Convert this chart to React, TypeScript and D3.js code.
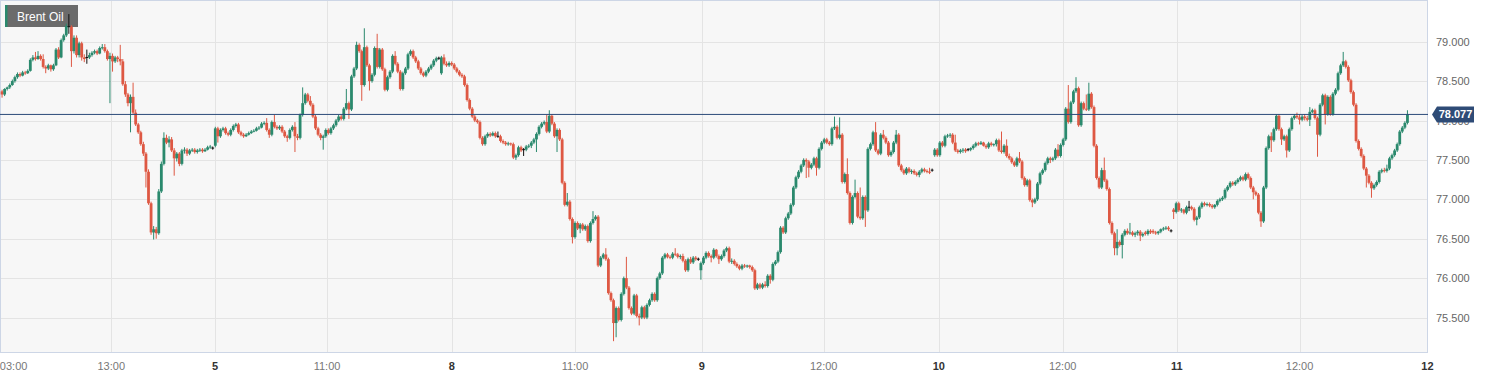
import React from "react";
import * as d3 from "d3";

// Brent Oil, 15-minute candles: [open, high, low, close]
const day4: number[][] = [
  [78.37,78.39,78.29,78.33],[78.33,78.41,78.31,78.40],[78.40,78.43,78.38,78.42],[78.42,78.47,78.40,78.45],
  [78.45,78.52,78.44,78.50],[78.50,78.57,78.48,78.55],[78.55,78.61,78.53,78.59],[78.59,78.61,78.55,78.57],
  [78.57,78.63,78.56,78.61],[78.61,78.63,78.58,78.60],[78.60,78.65,78.59,78.63],[78.63,78.79,78.62,78.77],
  [78.77,78.83,78.75,78.80],[78.80,78.87,78.76,78.78],[78.78,78.88,78.77,78.82],[78.82,78.84,78.76,78.78],
  [78.78,78.84,78.66,78.68],[78.68,78.70,78.60,78.66],[78.66,78.72,78.64,78.70],[78.70,78.71,78.62,78.65],
  [78.65,78.72,78.63,78.70],[78.70,78.92,78.69,78.90],[78.90,78.93,78.78,78.80],[78.80,79.04,78.79,79.02],
  [79.02,79.10,79.00,79.08],[79.08,79.23,79.06,79.20],[79.19,79.35,79.10,79.19],[79.19,79.21,78.68,78.88],
  [78.88,79.08,78.85,79.05],[79.05,79.08,78.80,78.83],[78.83,79.00,78.80,78.98],[78.98,79.00,78.76,78.80],
  [78.80,78.84,78.74,78.78],[78.80,78.90,78.72,78.80],[78.80,78.86,78.78,78.83],[78.83,78.88,78.81,78.86],
  [78.86,78.90,78.84,78.88],[78.88,78.90,78.83,78.85],[78.85,78.94,78.84,78.92],[78.92,78.97,78.90,78.93],
  [78.93,78.97,78.86,78.88],[78.88,78.90,78.76,78.78],[78.78,78.86,78.22,78.82],[78.82,78.85,78.62,78.75],
  [78.75,78.82,78.73,78.80],[78.80,78.82,78.74,78.78],[78.78,78.96,78.70,78.75],[78.75,78.78,78.44,78.46],
  [78.46,78.50,78.30,78.33],[78.33,78.35,78.18,78.22],[78.22,78.33,77.85,78.30],[78.30,78.48,78.08,78.10],
  [78.10,78.14,77.93,77.95],[77.95,77.97,77.83,77.85],[77.85,77.87,77.68,77.70],[77.70,77.73,77.55,77.58],
  [77.58,77.60,77.15,77.35],[77.35,77.38,76.93,76.95],[76.95,76.97,76.55,76.58],[76.58,76.66,76.49,76.62],
  [76.62,76.65,76.50,76.57],[76.57,77.13,76.55,77.10],[77.10,77.48,77.08,77.45],[77.45,77.85,77.43,77.78],
  [77.78,77.82,77.70,77.72],[77.72,77.80,77.66,77.76],[77.76,77.79,77.60,77.62],[77.62,77.65,77.30,77.52],
  [77.52,77.60,77.48,77.58],[77.58,77.60,77.42,77.45],[77.45,77.64,77.43,77.62],[77.62,77.66,77.58,77.63],
  [77.63,77.65,77.55,77.58],[77.58,77.64,77.56,77.62],[77.62,77.65,77.60,77.63],[77.63,77.65,77.58,77.60],
  [77.60,77.64,77.58,77.62],[77.62,77.65,77.60,77.63],[77.63,77.65,77.59,77.61],[77.61,77.65,77.60,77.63],
  [77.63,77.68,77.62,77.66],[77.66,77.69,77.64,77.67],[77.65,77.67,77.63,77.65],
];

const day5: number[][] = [
  [77.68,77.92,77.66,77.90],[77.90,77.92,77.72,77.80],[77.80,77.90,77.78,77.88],[77.88,77.92,77.86,77.90],
  [77.90,77.92,77.82,77.84],[77.84,77.86,77.80,77.82],[77.82,77.90,77.80,77.88],[77.88,77.95,77.86,77.93],
  [77.93,77.97,77.91,77.95],[77.95,77.97,77.83,77.85],[77.85,77.87,77.80,77.82],[77.82,77.84,77.78,77.80],
  [77.80,77.84,77.79,77.82],[77.82,77.86,77.81,77.84],[77.84,77.88,77.83,77.86],[77.86,77.89,77.85,77.87],
  [77.87,77.92,77.86,77.90],[77.90,77.93,77.88,77.91],[77.91,77.98,77.90,77.96],[77.96,77.99,77.94,77.97],
  [77.97,78.03,77.86,77.88],[77.88,77.90,77.78,77.82],[77.82,78.00,77.80,77.98],[77.98,78.07,77.90,77.92],
  [77.92,77.94,77.88,77.90],[77.90,77.94,77.88,77.92],[77.92,77.94,77.84,77.86],[77.86,77.88,77.78,77.80],
  [77.80,77.82,77.73,77.78],[77.78,77.90,77.76,77.88],[77.88,77.94,77.86,77.92],[77.92,77.98,77.60,77.80],
  [77.80,77.83,77.75,77.78],[77.78,78.09,77.76,78.07],[78.07,78.42,78.05,78.22],[78.22,78.35,78.20,78.33],
  [78.33,78.35,78.23,78.25],[78.25,78.31,78.18,78.20],[78.20,78.22,78.03,78.05],[78.05,78.07,77.88,77.90],
  [77.90,77.92,77.80,77.82],[77.82,77.84,77.75,77.78],[77.78,77.82,77.63,77.80],[77.80,77.90,77.78,77.88],
  [77.88,77.90,77.82,77.84],[77.84,77.92,77.82,77.90],[77.90,77.96,77.88,77.94],[77.94,78.02,77.92,78.00],
  [78.00,78.07,77.98,78.05],[78.05,78.07,78.00,78.02],[78.02,78.17,78.00,78.15],[78.15,78.40,78.13,78.22],
  [78.22,78.24,78.02,78.14],[78.14,78.58,78.12,78.56],[78.56,78.68,78.54,78.66],[78.66,79.00,78.64,78.96],
  [78.96,78.98,78.86,78.88],[78.88,78.90,78.25,78.45],[78.45,79.17,78.43,78.93],[78.93,78.95,78.68,78.70],
  [78.70,78.72,78.38,78.50],[78.50,78.60,78.48,78.58],[78.58,78.94,78.56,78.92],[78.92,79.10,78.66,78.68],
  [78.68,78.92,78.66,78.90],[78.90,78.92,78.63,78.65],[78.65,78.67,78.37,78.39],[78.39,78.57,78.37,78.55],
  [78.55,78.64,78.53,78.62],[78.62,78.84,78.60,78.82],[78.82,78.88,78.70,78.72],[78.72,78.74,78.60,78.62],
  [78.62,78.64,78.38,78.40],[78.40,78.62,78.38,78.60],[78.60,78.68,78.58,78.66],[78.66,78.86,78.64,78.84],
  [78.84,78.90,78.82,78.88],[78.88,78.90,78.78,78.80],[78.80,78.82,78.73,78.75],[78.75,78.77,78.64,78.66],
  [78.66,78.68,78.58,78.60],[78.60,78.62,78.55,78.57],[78.57,78.64,78.55,78.62],[78.62,78.68,78.60,78.66],
  [78.66,78.72,78.64,78.70],[78.70,78.78,78.68,78.76],[78.76,78.81,78.74,78.79],[78.79,78.81,78.77,78.79],
  [78.60,78.82,78.58,78.80],[78.80,78.84,78.70,78.72],[78.72,78.75,78.68,78.70],[78.70,78.75,78.68,78.73],
  [78.73,78.75,78.69,78.71],
];

const day8: number[][] = [
  [78.71,78.73,78.64,78.66],[78.66,78.68,78.60,78.62],[78.62,78.64,78.56,78.58],[78.58,78.60,78.54,78.56],
  [78.56,78.58,78.43,78.45],[78.45,78.47,78.24,78.26],[78.26,78.28,78.13,78.15],[78.15,78.17,78.03,78.05],
  [78.05,78.07,77.98,78.00],[78.00,78.02,77.96,77.98],[77.98,78.00,77.76,77.78],[77.78,77.80,77.68,77.70],
  [77.70,77.82,77.68,77.80],[77.80,77.85,77.78,77.83],[77.83,77.85,77.79,77.81],[77.81,77.86,77.80,77.84],
  [77.84,77.86,77.78,77.80],[77.80,77.86,77.78,77.80],[77.80,77.82,77.72,77.74],[77.74,77.76,77.70,77.72],
  [77.72,77.74,77.68,77.70],[77.70,77.73,77.68,77.71],[77.71,77.72,77.68,77.70],[77.70,77.72,77.51,77.53],
  [77.53,77.58,77.50,77.56],[77.56,77.68,77.54,77.66],[77.66,77.68,77.60,77.62],[77.63,77.65,77.55,77.63],
  [77.63,77.69,77.61,77.67],[77.67,77.70,77.65,77.68],[77.68,77.74,77.65,77.72],[77.72,77.78,77.70,77.76],
  [77.76,77.85,77.60,77.83],[77.83,77.94,77.81,77.92],[77.92,77.98,77.90,77.96],[77.96,78.00,77.94,77.98],
  [77.98,78.07,77.84,77.86],[77.86,78.13,77.84,78.06],[78.06,78.08,77.94,77.96],[77.96,77.98,77.78,77.80],
  [77.80,77.90,77.60,77.88],[77.88,77.90,77.74,77.76],[77.76,77.78,77.19,77.21],[77.21,77.23,76.91,76.93],
  [76.93,77.08,76.91,76.97],[76.97,76.99,76.73,76.75],[76.75,76.77,76.44,76.52],[76.52,76.72,76.50,76.70],
  [76.70,76.72,76.61,76.63],[76.63,76.70,76.57,76.68],[76.68,76.70,76.60,76.62],[76.62,76.68,76.60,76.66],
  [76.66,76.68,76.45,76.47],[76.47,76.72,76.45,76.70],[76.70,76.85,76.68,76.75],[76.75,76.80,76.73,76.78],
  [76.78,76.80,76.14,76.16],[76.16,76.28,76.14,76.26],[76.26,76.32,76.24,76.30],[76.30,76.38,76.22,76.24],
  [76.24,76.26,75.79,75.81],[75.81,75.83,75.70,75.72],[75.72,75.74,75.20,75.43],[75.43,75.64,75.25,75.62],
  [75.62,75.64,75.45,75.47],[75.47,75.82,75.45,75.80],[75.80,76.02,75.78,76.00],[76.00,76.27,75.86,75.88],
  [75.88,75.90,75.60,75.62],[75.62,75.64,75.53,75.55],[75.55,75.80,75.53,75.78],[75.78,75.80,75.50,75.52],
  [75.52,75.55,75.40,75.50],[75.50,75.65,75.48,75.63],[75.63,75.65,75.48,75.50],[75.50,75.68,75.48,75.66],
  [75.66,75.74,75.64,75.72],[75.72,75.82,75.70,75.80],[75.80,75.82,75.70,75.72],[75.72,76.02,75.70,76.00],
  [76.00,76.08,75.98,76.06],[76.06,76.28,76.04,76.26],[76.26,76.32,76.24,76.30],[76.30,76.32,76.25,76.27],
  [76.27,76.29,76.24,76.26],[76.26,76.33,76.24,76.31],[76.31,76.38,76.28,76.30],[76.30,76.32,76.25,76.27],
  [76.27,76.30,76.24,76.28],[76.28,76.31,76.20,76.22],[76.22,76.24,76.08,76.10],[76.10,76.26,76.08,76.24],
  [76.24,76.27,76.18,76.20],[76.20,76.28,76.18,76.26],[76.26,76.28,76.22,76.24],[76.24,76.26,76.22,76.24],
];

const day9: number[][] = [
  [76.10,76.21,75.98,76.19],[76.19,76.28,76.17,76.26],[76.26,76.34,76.24,76.32],[76.32,76.34,76.26,76.28],
  [76.28,76.30,76.20,76.26],[76.26,76.38,76.24,76.36],[76.36,76.37,76.26,76.28],[76.28,76.30,76.18,76.24],
  [76.24,76.30,76.22,76.28],[76.28,76.37,76.26,76.35],[76.35,76.40,76.33,76.38],[76.38,76.40,76.19,76.21],
  [76.21,76.25,76.18,76.22],[76.22,76.24,76.16,76.18],[76.18,76.20,76.13,76.15],[76.15,76.17,76.10,76.12],
  [76.12,76.18,76.10,76.16],[76.16,76.18,76.13,76.15],[76.15,76.17,76.13,76.16],[76.16,76.17,76.12,76.14],
  [76.14,76.16,76.08,76.10],[76.10,76.12,75.85,75.87],[75.87,75.94,75.85,75.92],[75.92,75.94,75.86,75.88],
  [75.88,75.94,75.86,75.92],[75.92,75.96,75.88,75.90],[75.90,76.05,75.88,76.03],[76.03,76.05,75.93,75.98],
  [75.98,76.20,75.96,76.18],[76.18,76.23,76.16,76.21],[76.21,76.35,76.19,76.33],[76.33,76.66,76.31,76.64],
  [76.64,76.66,76.56,76.58],[76.58,76.78,76.56,76.76],[76.76,76.84,76.74,76.82],[76.82,76.95,76.80,76.93],
  [76.93,77.17,76.91,77.15],[77.15,77.30,77.13,77.28],[77.28,77.37,77.26,77.35],[77.35,77.45,77.33,77.43],
  [77.43,77.52,77.41,77.50],[77.50,77.52,77.27,77.48],[77.48,77.50,77.28,77.40],[77.40,77.46,77.38,77.44],
  [77.44,77.54,77.42,77.52],[77.52,77.54,77.30,77.40],[77.40,77.66,77.38,77.64],[77.64,77.74,77.62,77.72],
  [77.72,77.78,77.70,77.76],[77.76,77.78,77.70,77.72],[77.72,77.74,77.68,77.70],[77.70,77.92,77.68,77.90],
  [77.90,78.05,77.88,77.92],[77.92,77.94,77.76,77.78],[77.78,78.04,77.76,77.82],[77.82,77.84,77.20,77.22],
  [77.22,77.34,77.20,77.32],[77.32,77.52,77.06,77.08],[77.08,77.10,76.68,76.70],[76.70,77.05,76.68,77.03],
  [77.03,77.25,77.01,77.08],[77.08,77.10,76.76,76.78],[76.78,77.15,76.74,76.76],[76.76,77.05,76.74,77.03],
  [77.03,77.05,76.65,76.86],[76.86,77.66,76.84,77.64],[77.64,77.72,77.62,77.70],[77.70,77.87,77.68,77.85],
  [77.85,77.98,77.60,77.62],[77.62,77.64,77.56,77.58],[77.58,77.84,77.56,77.82],[77.82,77.88,77.76,77.78],
  [77.78,77.80,77.70,77.72],[77.72,77.74,77.54,77.56],[77.56,77.62,77.54,77.60],[77.60,77.74,77.58,77.72],
  [77.72,77.88,77.70,77.82],[77.82,77.84,77.41,77.43],[77.43,77.45,77.35,77.37],[77.37,77.39,77.31,77.33],
  [77.33,77.41,77.31,77.39],[77.39,77.41,77.33,77.35],[77.35,77.38,77.32,77.36],[77.36,77.38,77.31,77.33],
  [77.33,77.35,77.29,77.31],[77.31,77.37,77.28,77.35],[77.35,77.40,77.33,77.38],[77.38,77.40,77.34,77.36],
  [77.36,77.38,77.33,77.35],[77.35,77.40,77.32,77.34],[77.37,77.39,77.35,77.37],
];

const day10: number[][] = [
  [77.56,77.65,77.54,77.63],[77.63,77.65,77.54,77.56],[77.56,77.74,77.54,77.72],[77.72,77.74,77.66,77.68],
  [77.68,77.82,77.66,77.80],[77.80,77.83,77.78,77.81],[77.81,77.84,77.78,77.82],[77.82,77.84,77.70,77.72],
  [77.72,77.82,77.60,77.62],[77.62,77.64,77.58,77.60],[77.60,77.64,77.58,77.62],[77.62,77.65,77.59,77.63],
  [77.63,77.65,77.59,77.61],[77.63,77.65,77.61,77.63],[77.63,77.66,77.61,77.65],[77.65,77.70,77.63,77.68],
  [77.68,77.73,77.66,77.71],[77.71,77.73,77.68,77.70],[77.70,77.74,77.69,77.72],[77.72,77.73,77.67,77.68],
  [77.68,77.70,77.64,77.66],[77.66,77.73,77.64,77.71],[77.71,77.73,77.67,77.69],[77.69,77.71,77.67,77.70],
  [77.70,77.77,77.67,77.75],[77.75,77.77,77.60,77.62],[77.62,77.86,77.58,77.60],[77.60,77.70,77.58,77.68],
  [77.68,77.76,77.53,77.55],[77.55,77.58,77.50,77.52],[77.52,77.54,77.45,77.47],[77.47,77.49,77.41,77.43],
  [77.43,77.54,77.41,77.52],[77.52,77.60,77.46,77.48],[77.48,77.50,77.25,77.27],[77.27,77.29,77.16,77.18],
  [77.18,77.26,77.16,77.24],[77.24,77.26,76.97,76.99],[76.99,77.01,76.90,76.96],[76.96,77.02,76.94,77.00],
  [77.00,77.22,76.98,77.20],[77.20,77.35,77.18,77.33],[77.33,77.39,77.31,77.37],[77.37,77.48,77.35,77.46],
  [77.46,77.54,77.44,77.52],[77.52,77.54,77.46,77.50],[77.50,77.54,77.48,77.52],[77.52,77.65,77.50,77.63],
  [77.63,77.70,77.53,77.55],[77.55,77.71,77.53,77.69],[77.69,77.78,77.67,77.76],[77.76,78.17,77.74,78.15],
  [78.15,78.45,77.96,77.98],[77.98,78.25,77.96,78.23],[78.23,78.39,78.21,78.37],[78.37,78.55,78.35,78.41],
  [78.41,78.43,77.92,77.94],[77.94,78.24,77.92,78.22],[78.22,78.24,78.13,78.15],[78.15,78.33,78.12,78.14],
  [78.14,78.48,78.12,78.34],[78.34,78.36,78.15,78.17],[78.17,78.19,77.66,77.68],[77.68,77.70,77.25,77.27],
  [77.27,77.29,77.13,77.15],[77.15,77.40,77.13,77.37],[77.37,77.53,77.22,77.24],[77.24,77.26,77.11,77.13],
  [77.13,77.15,76.68,76.70],[76.70,76.72,76.55,76.57],[76.57,76.59,76.29,76.38],[76.38,76.62,76.29,76.46],
  [76.46,76.48,76.40,76.42],[76.42,76.57,76.25,76.55],[76.55,76.62,76.53,76.60],[76.60,76.63,76.55,76.57],
  [76.57,76.70,76.55,76.58],[76.58,76.60,76.53,76.55],[76.55,76.59,76.52,76.57],[76.57,76.61,76.54,76.59],
  [76.59,76.61,76.47,76.54],[76.54,76.58,76.52,76.56],[76.58,76.60,76.54,76.56],[76.56,76.62,76.54,76.60],
  [76.60,76.62,76.56,76.58],[76.60,76.62,76.56,76.58],[76.58,76.60,76.55,76.57],[76.57,76.60,76.55,76.59],
  [76.59,76.63,76.57,76.62],[76.62,76.65,76.60,76.63],[76.63,76.66,76.61,76.64],[76.64,76.66,76.60,76.62],
  [76.60,76.62,76.58,76.60],
];

const day11: number[][] = [
  [76.87,76.89,76.75,76.84],[76.84,76.97,76.82,76.95],[76.95,76.97,76.84,76.86],[76.86,76.89,76.83,76.87],
  [76.87,76.88,76.81,76.83],[76.83,76.92,76.81,76.90],[76.90,76.98,76.85,76.90],[76.90,76.92,76.86,76.88],
  [76.88,76.90,76.72,76.74],[76.74,76.79,76.67,76.77],[76.77,76.92,76.75,76.90],[76.90,76.97,76.88,76.95],
  [76.95,76.97,76.91,76.93],[76.93,76.96,76.91,76.94],[76.94,76.96,76.90,76.92],[76.92,76.94,76.88,76.90],
  [76.90,76.94,76.88,76.93],[76.93,77.00,76.91,76.98],[76.98,77.02,76.96,77.00],[77.00,77.04,76.98,77.02],
  [77.02,77.14,77.00,77.12],[77.12,77.18,77.10,77.16],[77.16,77.23,77.14,77.21],[77.21,77.23,77.17,77.19],
  [77.19,77.24,77.17,77.22],[77.22,77.27,77.20,77.25],[77.25,77.30,77.23,77.28],[77.28,77.30,77.23,77.25],
  [77.25,77.34,77.23,77.32],[77.32,77.34,77.25,77.27],[77.27,77.29,77.13,77.15],[77.15,77.17,77.00,77.09],
  [77.09,77.11,77.04,77.06],[77.06,77.08,76.81,76.83],[76.83,76.85,76.65,76.72],[76.72,77.17,76.70,77.15],
  [77.15,77.67,77.13,77.65],[77.65,77.82,77.63,77.80],[77.80,77.85,77.60,77.75],[77.75,77.91,77.73,77.89],
  [77.89,78.08,77.87,78.06],[78.06,78.08,77.87,77.89],[77.89,77.91,77.69,77.76],[77.76,77.82,77.74,77.80],
  [77.80,77.82,77.53,77.62],[77.62,77.91,77.60,77.89],[77.89,78.05,77.87,78.03],[78.03,78.08,78.01,78.06],
  [78.06,78.10,78.02,78.04],[78.04,78.08,77.95,78.01],[78.01,78.07,77.99,78.05],[78.05,78.08,78.00,78.03],
  [78.03,78.06,77.99,78.01],[78.01,78.17,77.93,78.11],[78.11,78.15,78.09,78.13],[78.13,78.15,78.01,78.03],
  [78.03,78.05,77.54,77.82],[77.82,78.22,77.80,78.20],[78.20,78.34,78.18,78.32],[78.32,78.34,77.95,78.08],
  [78.08,78.32,78.06,78.30],[78.30,78.32,78.06,78.08],[78.08,78.36,78.06,78.34],[78.34,78.41,78.32,78.39],
  [78.39,78.62,78.37,78.60],[78.60,78.72,78.58,78.70],[78.70,78.87,78.68,78.75],[78.75,78.77,78.66,78.68],
  [78.68,78.70,78.49,78.51],[78.51,78.53,78.34,78.36],[78.36,78.38,78.18,78.20],[78.20,78.22,77.72,77.74],
  [77.74,77.76,77.62,77.64],[77.64,77.66,77.53,77.55],[77.55,77.57,77.37,77.39],[77.39,77.41,77.15,77.30],
  [77.30,77.32,77.19,77.21],[77.21,77.23,77.02,77.14],[77.14,77.20,77.12,77.18],[77.18,77.24,77.16,77.22],
  [77.22,77.37,77.20,77.35],[77.35,77.39,77.33,77.37],[77.37,77.40,77.34,77.36],[77.36,77.44,77.34,77.39],
  [77.39,77.54,77.37,77.52],[77.52,77.58,77.50,77.56],[77.56,77.64,77.54,77.62],[77.62,77.72,77.60,77.70],
  [77.70,77.88,77.68,77.86],[77.86,77.93,77.84,77.91],[77.91,77.99,77.89,77.97],[77.97,78.13,77.95,78.077],
];

// axis
const yTickValues = [75.5, 76.0, 76.5, 77.0, 77.5, 78.0, 78.5, 79.0];
const xTickLabels = ["03:00", "13:00", "5", "11:00", "8", "11:00", "9", "12:00", "10", "12:00", "11", "12:00", "12"];
const xTickSlots = [4.5, 42.5, 82.9, 126.5, 175.1, 223.0, 272.4, 319.8, 364.6, 412.8, 457.2, 505.0, 554.8];
const xTickIsDay = [false, false, true, false, true, false, true, false, true, false, true, false, true];
const seriesName = "Brent Oil";

const UP = "#2a896d";
const DOWN = "#de5843";
const FONT = "'Liberation Sans', Arial, Helvetica, sans-serif";

export default function App() {
  const candles = [...day4, ...day5, ...day8, ...day9, ...day10, ...day11].map((d, i) => ({
    i, o: d[0], h: d[1], l: d[2], c: d[3],
  }));
  const last = candles[candles.length - 1].c;

  const plotW = 1428, plotH = 353;
  const x = d3.scaleLinear().domain([-0.8, 555]).range([0, plotW]);
  const y = d3.scaleLinear().domain([75.05, 79.529]).range([plotH, 0]);
  const fmt = d3.format(".3f");
  const bw = 2.8;

  const ly = y(last);

  return (
    <svg width={1493} height={380} style={{ position: "absolute", left: 0, top: 0, background: "#fff" }} fontFamily={FONT}>
      <rect x={0} y={0} width={1493} height={380} fill="#ffffff" />
      <rect x={0} y={0} width={plotW} height={plotH} fill="#f7f7f7" />
      {yTickValues.map((v) => (
        <line key={"gy" + v} x1={0} x2={plotW} y1={Math.round(y(v)) + 0.5} y2={Math.round(y(v)) + 0.5} stroke="#e4e4e4" strokeWidth={1} />
      ))}
      {xTickSlots.map((s, k) =>
        k === 0 || k === xTickSlots.length - 1 ? null : (
          <line key={"gx" + k} x1={Math.round(x(s)) + 0.5} x2={Math.round(x(s)) + 0.5} y1={0} y2={plotH} stroke="#e4e4e4" strokeWidth={1} />
        )
      )}
      <rect x={0.5} y={0.5} width={plotW - 1} height={plotH - 1} fill="none" stroke="#cdd6e6" strokeWidth={1} />

      {/* legend */}
      <rect x={5} y={5} width={73} height={22} fill="#5e5e5e" fillOpacity={0.92} />
      <rect x={5} y={5} width={2.5} height={22} fill={UP} />
      <text x={17} y={20.5} fill="#ffffff" fontSize={12}>{seriesName}</text>

      {/* candles */}
      {candles.map((d) => {
        const cx = x(d.i);
        const doji = d.o === d.c;
        const col = doji ? "#111" : d.c > d.o ? UP : DOWN;
        const top = y(Math.max(d.o, d.c));
        const bot = y(Math.min(d.o, d.c));
        const hgt = Math.max(1, bot - top);
        return (
          <g key={d.i}>
            <line x1={cx} x2={cx} y1={y(d.h)} y2={y(d.l)} stroke={col} strokeWidth={1} />
            <rect x={cx - bw / 2} y={doji ? top - 0.5 : top} width={bw} height={hgt} fill={col} />
          </g>
        );
      })}

      {/* last price line */}
      <line x1={0} x2={plotW} y1={ly} y2={ly} stroke="#2b4a78" strokeWidth={1} />

      {/* y axis labels */}
      {yTickValues.map((v) => (
        <text key={"ty" + v} x={1436} y={y(v) + 4} fontSize={11} fill="#666">{fmt(v)}</text>
      ))}
      <path d={`M ${plotW + 4} ${ly} L ${plotW + 9} ${ly - 8} L ${plotW + 46} ${ly - 8} L ${plotW + 46} ${ly + 8} L ${plotW + 9} ${ly + 8} Z`} fill="#2e4b76" />
      <text x={plotW + 27.5} y={ly + 4} fontSize={11} fontWeight="bold" fill="#ffffff" textAnchor="middle">{fmt(last)}</text>

      {/* x axis labels */}
      {xTickSlots.map((s, k) => (
        <text key={"tx" + k} x={x(s)} y={370} fontSize={11} textAnchor="middle"
          fill={xTickIsDay[k] ? "#333" : "#777"} fontWeight={xTickIsDay[k] ? "bold" : "normal"}>
          {xTickLabels[k]}
        </text>
      ))}
    </svg>
  );
}
